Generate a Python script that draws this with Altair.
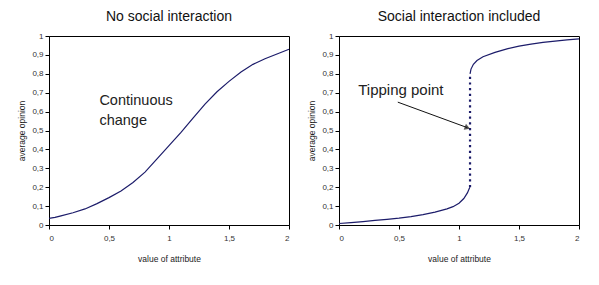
import altair as alt
import pandas as pd

# Left panel: no social interaction
left_x = [0, 0.05, 0.1, 0.2, 0.3, 0.4, 0.5, 0.6, 0.7, 0.8, 0.9, 1.0, 1.1, 1.2, 1.3, 1.4, 1.5, 1.6, 1.7, 1.8, 1.9, 2.0]
left_y = [0.035, 0.04, 0.048, 0.065, 0.085, 0.113, 0.145, 0.18, 0.225, 0.28, 0.35, 0.42, 0.49, 0.565, 0.64, 0.705, 0.76, 0.81, 0.85, 0.88, 0.905, 0.93]

# Right panel: social interaction included (lower and upper branches)
low_x = [0, 0.1, 0.2, 0.3, 0.4, 0.5, 0.6, 0.7, 0.8, 0.9, 0.95, 1.0, 1.04, 1.07, 1.09]
low_y = [0.008, 0.013, 0.018, 0.024, 0.03, 0.036, 0.044, 0.055, 0.068, 0.085, 0.097, 0.115, 0.14, 0.17, 0.2]
up_x = [1.092, 1.1, 1.12, 1.15, 1.2, 1.3, 1.4, 1.5, 1.6, 1.7, 1.8, 1.9, 2.0]
up_y = [0.8, 0.825, 0.85, 0.87, 0.89, 0.913, 0.932, 0.946, 0.957, 0.966, 0.973, 0.979, 0.985]
jump_x = [1.092, 1.092]
jump_y = [0.2, 0.8]

# Annotation arrow (data coordinates)
arrow_x = [0.49, 1.07]
arrow_y = [0.65, 0.515]

x_ticks = [0, 0.5, 1, 1.5, 2]
y_ticks = [0, 0.1, 0.2, 0.3, 0.4, 0.5, 0.6, 0.7, 0.8, 0.9, 1]

line_color = "#1c1c6a"

xs = alt.Scale(domain=[0, 2], nice=False)
ys = alt.Scale(domain=[0, 1], nice=False)
comma = "replace(format(datum.value, '.1~f'), '.', ',')"
xaxis = alt.Axis(title="value of attribute", values=x_ticks, labelExpr=comma,
                 grid=False, tickSize=4, labelPadding=5, titlePadding=12, labelOverlap=False)
yaxis = alt.Axis(title="average opinion", values=y_ticks, labelExpr=comma,
                 grid=False, tickSize=4, labelPadding=2, titlePadding=5, labelOverlap=False)


def X(field="x"):
    return alt.X(f"{field}:Q", scale=xs, axis=xaxis)


def Y(field="y"):
    return alt.Y(f"{field}:Q", scale=ys, axis=yaxis)


W, H = 240, 189

dl = pd.DataFrame({"x": left_x, "y": left_y})
left_line = alt.Chart(dl).mark_line(color=line_color, strokeWidth=1.2).encode(x=X(), y=Y())
left_text = alt.Chart(pd.DataFrame({"x": [0.42], "y": [0.655], "t": [["Continuous", "change"]]})).mark_text(
    align="left", baseline="middle", fontSize=14.5, font="Liberation Sans", lineHeight=20, color="#222"
).encode(x=X(), y=Y(), text="t:N")
left = alt.layer(left_line, left_text).properties(
    width=W, height=H, title="No social interaction")

dlow = pd.DataFrame({"x": low_x, "y": low_y})
dup = pd.DataFrame({"x": up_x, "y": up_y})
dj = pd.DataFrame({"x": jump_x, "y": jump_y})
r_low = alt.Chart(dlow).mark_line(color=line_color, strokeWidth=1.2).encode(x=X(), y=Y())
r_up = alt.Chart(dup).mark_line(color=line_color, strokeWidth=1.2).encode(x=X(), y=Y())
r_jump = alt.Chart(dj).mark_line(color=line_color, strokeWidth=2.2, strokeDash=[2.2, 3.5]).encode(
    x=X(), y=Y())
da = pd.DataFrame({"x": [arrow_x[0]], "y": [arrow_y[0]], "x2": [arrow_x[1]], "y2": [arrow_y[1]]})
r_arrow = alt.Chart(da).mark_rule(color="#111", strokeWidth=1).encode(
    x=X(), y=Y(), x2="x2:Q", y2="y2:Q")
dh = pd.DataFrame({"x": [arrow_x[1]], "y": [arrow_y[1]]})
r_head = alt.Chart(dh).mark_point(shape="triangle-right", filled=True, size=40, color="#111",
                                  angle=21).encode(x=X(), y=Y())
r_text = alt.Chart(pd.DataFrame({"x": [0.16], "y": [0.715], "t": ["Tipping point"]})).mark_text(
    align="left", baseline="middle", fontSize=15, font="Liberation Sans", color="#222"
).encode(x=X(), y=Y(), text="t:N")
right = alt.layer(r_low, r_up, r_jump, r_arrow, r_head, r_text).properties(
    width=W, height=H, title="Social interaction included")

chart = alt.hconcat(left, right, spacing=15).properties(
    padding={"left": 9, "top": 1, "right": 3, "bottom": 5}, background="white"
).configure_view(
    stroke="#000", strokeWidth=1
).configure_axis(
    domainColor="#000", tickColor="#000", labelFont="Liberation Sans", labelFontSize=8,
    labelColor="#333", titleFont="Liberation Sans", titleFontSize=8.5, titleFontWeight="normal",
    titleColor="#222"
).configure_title(
    font="Liberation Sans", fontSize=14, fontWeight="normal", color="#111", offset=8, anchor="middle"
)

chart.save("out.html", embed_options={"renderer": "svg", "actions": False})
